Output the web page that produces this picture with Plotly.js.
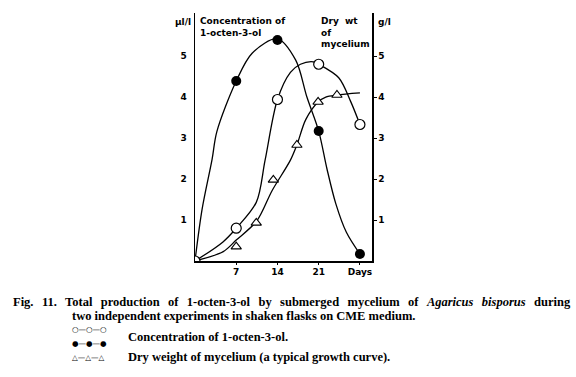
<!DOCTYPE html>
<html><head><meta charset="utf-8">
<script src="https://cdn.plot.ly/plotly-3.0.1.min.js"></script>
<style>
body{margin:0;background:#fff}
#chart .annotation[data-index="4"] text{word-spacing:5.3px}
</style>
</head><body><div id="chart" style="width:576px;height:377px"></div>
<script>
// ---- Data ----
// Concentration of 1-octen-3-ol (µl/l), measured points
const daysConc = [0, 7, 14, 21, 28];
const concOpen = [0, 0.8, 3.94, 4.8, 3.33];       // experiment 1 (open circles)
const concFilled = [0, 4.39, 5.39, 3.17, 0.17];   // experiment 2 (filled circles)
// Hand-drawn curves through the points (read off the figure)
const curveOpenDays = [0, 4.7, 7, 10.4, 11.9, 14, 16.2, 17.9, 20.1, 21, 24.4, 26.4, 28];
const curveOpenVals = [0, 0.46, 0.8, 1.43, 2.46, 3.94, 4.6, 4.8, 4.86, 4.8, 4.47, 3.9, 3.33];
const curveFilledDays = [0, 1.2, 2.9, 3.7, 7, 9.7, 14, 17.1, 19, 21, 22.4, 23.9, 25.7, 28];
const curveFilledVals = [0, 1.26, 2.48, 3.15, 4.39, 5.07, 5.42, 4.9, 4.0, 3.17, 2.25, 1.4, 0.7, 0.17];
// Dry weight of mycelium (g/l)
const daysDry = [7, 10.4, 13.3, 17.3, 20.9, 24.1];
const dryWt = [0.35, 0.93, 1.98, 2.83, 3.88, 4.05];
const curveDryDays = [0, 4.8, 7, 10.5, 13.1, 16.2, 17.3, 18.8, 20.9, 22.2, 24.1, 28];
const curveDryVals = [0, 0.23, 0.51, 0.98, 1.72, 2.46, 2.83, 3.45, 3.88, 4.0, 4.05, 4.1];
// Ticks
const xTickVals = [7, 14, 21, 28];
const xTickText = ['7', '14', '21', 'Days'];
const yTickVals = [1, 2, 3, 4, 5];
const yTickText = ['1', '2', '3', '4', '5'];

// ---- Layout geometry (pixels) ----
const W = 576, H = 377, L = 195, R = 372, T = 13, B = 261;
const px = x => (x - L) / (R - L);
const py = y => (B - y) / (B - T);
const axFont = {family: 'DejaVu Sans', size: 9, color: '#000', weight: 'bold'};
const capFont = {family: 'Liberation Serif', size: 12.5, color: '#000', weight: 'bold'};
const lineStyle = {color: '#000', width: 1.3, shape: 'spline', smoothing: 0.9};

const traces = [
  {x: curveDryDays, y: curveDryVals, mode: 'lines', line: lineStyle},
  {x: daysDry, y: dryWt, mode: 'markers', marker: {symbol: 'triangle-up', size: 9, color: '#fff', line: {color: '#000', width: 1.1}}},
  {x: curveFilledDays, y: curveFilledVals, mode: 'lines', line: lineStyle},
  {x: curveOpenDays, y: curveOpenVals, mode: 'lines', line: lineStyle},
  {x: daysConc.slice(1), y: concFilled.slice(1), mode: 'markers', marker: {symbol: 'circle', size: 10, color: '#000'}},
  {x: daysConc, y: concOpen, mode: 'markers', marker: {symbol: 'circle', size: 10, color: '#fff', line: {color: '#000', width: 1.2}}},
  {x: [null], y: [null], yaxis: 'y2', mode: 'markers'}
];

function ann(text, x, y, xanchor, font) {
  return {text: text, xref: 'paper', yref: 'paper', x: px(x), y: py(y), xanchor: xanchor, yanchor: 'middle',
    showarrow: false, font: font, align: 'left'};
}
const symFont = {family: 'DejaVu Sans', size: 7.5, color: '#000'};
const annotations = [
  ann('µl/l', 193, 22, 'right', axFont),
  ann('g/l', 376, 22, 'left', axFont),
  ann('Concentration of<br>1-octen-3-ol', 198, 27, 'left', axFont),
  ann('Dry  wt<br>of<br>mycelium', 319, 32, 'left', axFont),
  ann('Fig. 11. Total production of 1-octen-3-ol by submerged mycelium of <i>Agaricus bisporus</i> during', 11, 302, 'left', capFont),
  ann('two independent experiments in shaken flasks on CME medium.', 70, 316, 'left', capFont),
  ann('○—○—○', 70, 329, 'left', symFont),
  ann('●—●—●', 70, 343, 'left', symFont),
  ann('Concentration of 1-octen-3-ol.', 126, 337, 'left', capFont),
  ann('△—△—△', 70, 357, 'left', symFont),
  ann('Dry weight of mycelium (a typical growth curve).', 126, 357, 'left', capFont)
];

const layout = {
  width: W, height: H,
  margin: {l: L, r: W - R, t: T, b: H - B, pad: 0},
  paper_bgcolor: '#fff', plot_bgcolor: '#fff',
  showlegend: false,
  xaxis: {range: [0, 30.05], showgrid: false, zeroline: false, showline: true, linecolor: '#000', linewidth: 1.5,
    tickvals: xTickVals, ticktext: xTickText, ticks: 'outside', ticklen: 2, tickcolor: '#000', tickfont: axFont},
  yaxis: {range: [0, 6.05], showgrid: false, zeroline: false, showline: true, linecolor: '#000', linewidth: 1.5,
    tickvals: yTickVals, ticktext: yTickText, ticks: '', tickfont: axFont, ticklabelstandoff: 5},
  yaxis2: {range: [0, 6.05], overlaying: 'y', side: 'right', showgrid: false, zeroline: false, showline: true,
    linecolor: '#000', linewidth: 1.5, tickvals: yTickVals, ticktext: yTickText, ticks: 'outside', ticklen: 3,
    tickcolor: '#000', tickfont: axFont},
  annotations: annotations
};
Plotly.newPlot('chart', traces, layout, {displayModeBar: false, staticPlot: true});
</script></body></html>
